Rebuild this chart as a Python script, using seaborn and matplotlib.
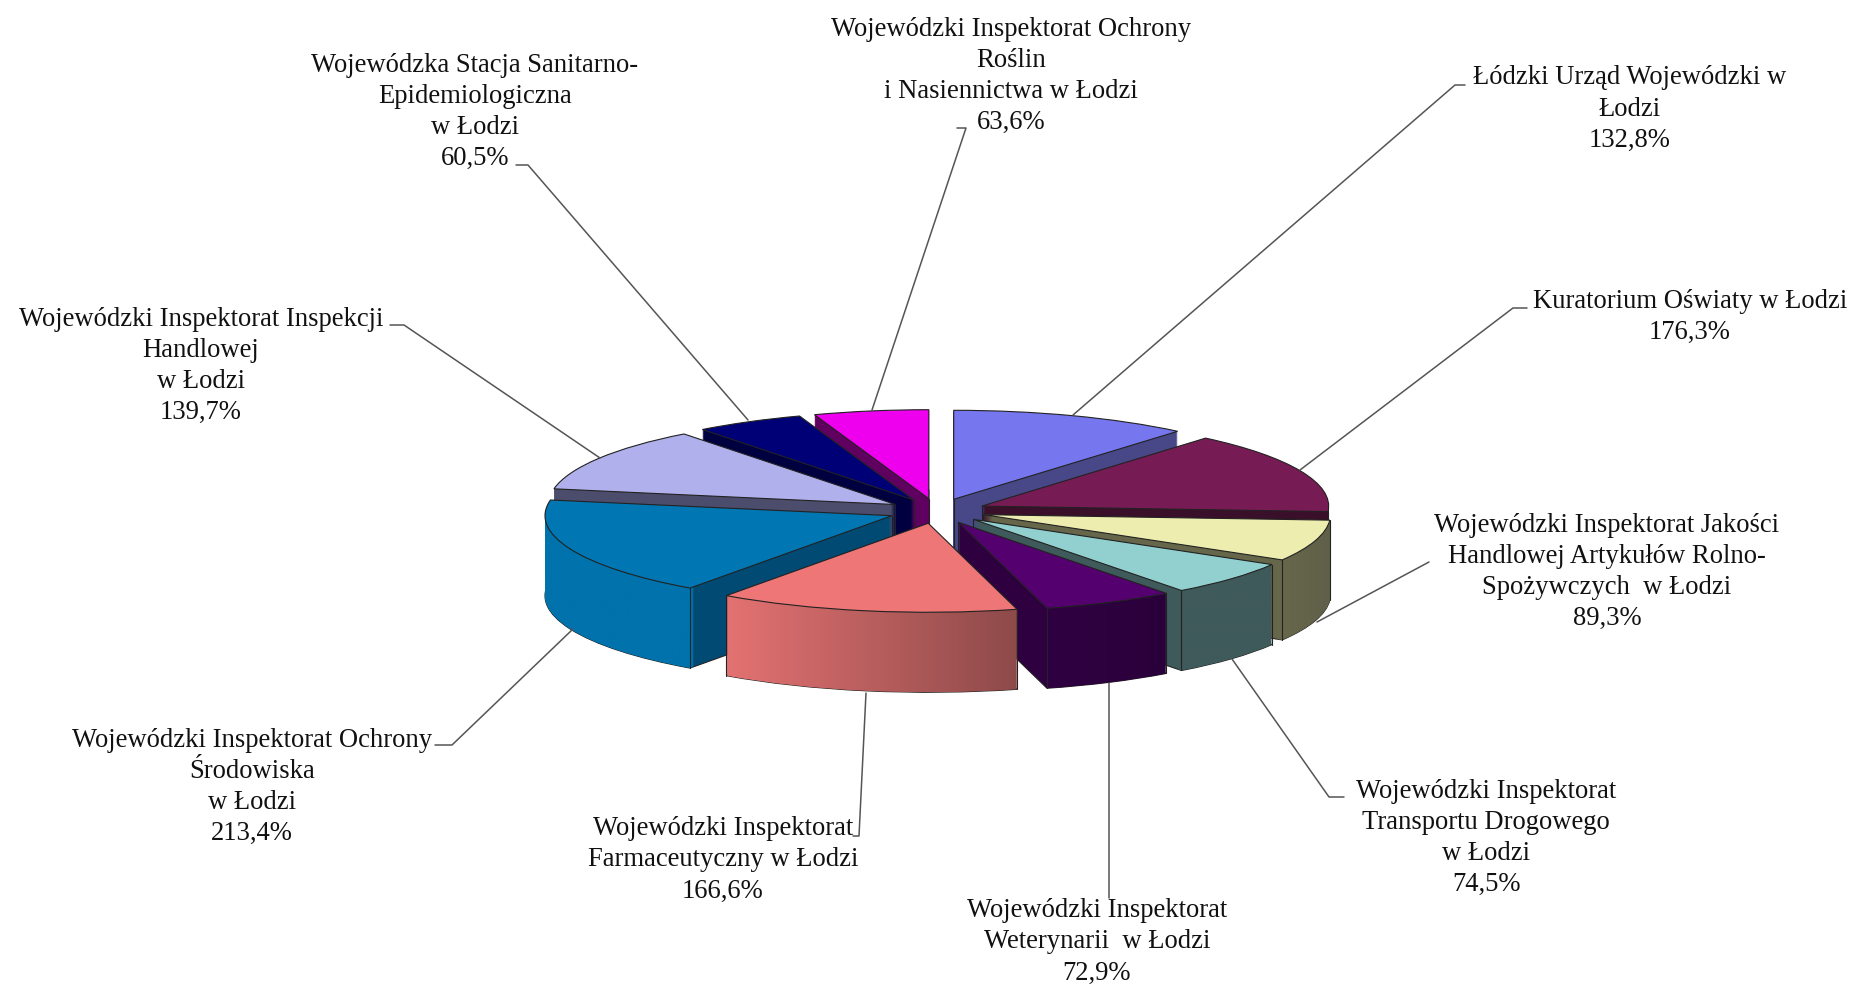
import numpy as np
import matplotlib
matplotlib.use('Agg')
import matplotlib.pyplot as plt
from matplotlib.lines import Line2D
from matplotlib.patches import PathPatch
from matplotlib.path import Path
import seaborn as sns

sns.set_theme(style="white")
plt.rcParams['font.family'] = ['Liberation Serif', 'DejaVu Serif']

# data, clockwise from 12 o'clock
names = ["Łódzki Urząd Wojewódzki w\nŁodzi",
         "Kuratorium Oświaty w Łodzi",
         "Wojewódzki Inspektorat Jakości\nHandlowej Artykułów Rolno-\nSpożywczych  w Łodzi",
         "Wojewódzki Inspektorat\nTransportu Drogowego\nw Łodzi",
         "Wojewódzki Inspektorat\nWeterynarii  w Łodzi",
         "Wojewódzki Inspektorat\nFarmaceutyczny w Łodzi",
         "Wojewódzki Inspektorat Ochrony\nŚrodowiska\nw Łodzi",
         "Wojewódzki Inspektorat Inspekcji\nHandlowej\nw Łodzi",
         "Wojewódzka Stacja Sanitarno-\nEpidemiologiczna\nw Łodzi",
         "Wojewódzki Inspektorat Ochrony\nRoślin\ni Nasiennictwa w Łodzi"]
values = [132.8, 176.3, 89.3, 74.5, 72.9, 166.6, 213.4, 139.7, 60.5, 63.6]

# colours
top_colors = ['#7676EE', '#771B55', '#EDEDB0', '#92D0D0', '#54006F',
              '#EE7676', '#0076B2', '#B0B0EC', '#000076', '#EE00EE']
side_colors = ['#484888', '#3A0F2A', '#66664A', '#3F5A5A', '#2E0040',
               '#A05050', '#004A73', '#4C4C6C', '#000040', '#600060']
rim_left = ['#484888', '#3A0F2A', '#68684C', '#3F5A5A', '#300042',
            '#E47272', '#0072AC', '#4C4C6C', '#000040', '#600060']
rim_right = ['#484888', '#3A0F2A', '#60604A', '#3F5A5A', '#2A003A',
             '#8E4A4A', '#0072AC', '#4C4C6C', '#000040', '#600060']
# back to front
draw_rank = [2, 4, 6, 7, 8, 9, 5, 3, 1, 0]

W, H = 1852, 986
cx, cy = 937, 511      # pie centre in pixels
rx, ry = 347, 89       # pixels per data unit
depth = 80

# label centres, leader lines (pixels of the full picture)
label_pos = [(1630, 109), (1690, 317), (1607, 572), (1486, 838), (1097, 942),
             (723, 860), (252, 787), (201, 366), (475, 112), (1011, 76)]
leaders = [[(1465, 85), (1455, 85), (1073, 415)],
           [(1527, 308), (1513, 308), (1300, 470)],
           [(1429, 562), (1317, 622)],
           [(1344, 797), (1329, 797), (1232, 659)],
           [(1109, 898), (1109, 683)],
           [(853, 836), (859, 836), (866, 693)],
           [(435, 745), (452, 745), (573, 629)],
           [(390, 325), (404, 325), (600, 458)],
           [(516, 165), (528, 165), (748, 420)],
           [(957, 128), (966, 128), (872, 410)]]

fig = plt.figure(figsize=(W / 100, H / 100), dpi=100, facecolor='white')
ax = fig.add_axes([0, 0, 1, 1])

pie_args = dict(startangle=90, counterclock=False, explode=[0.14] * len(values))
n = len(values)
rim_paths = [[] for _ in range(n)]

# stacked wedges make the walls
for k in range(depth, 0, -1):
    y0 = -k / ry
    edge = '#222222' if k == depth else 'none'
    walls, _ = ax.pie(values, center=(0, y0), colors=side_colors,
                      wedgeprops=dict(linewidth=0.8 if k == depth else 0, edgecolor=edge), **pie_args)
    rims, _ = ax.pie(values, center=(0, y0), colors=side_colors,
                     wedgeprops=dict(width=0.02, linewidth=0), **pie_args)
    for i in range(n):
        walls[i].set_zorder(draw_rank[i] * 10 + 1)
        rims[i].set_visible(False)
        rim_paths[i].append(rims[i].get_path())

tops, _ = ax.pie(values, colors=top_colors,
                 wedgeprops=dict(linewidth=0.8, edgecolor='#222222'), **pie_args)

gradient = np.linspace(0, 1, 256)[None, :]
for i in range(n):
    z = draw_rank[i] * 10
    tops[i].set_zorder(z + 5)

    # outer wall with its left-right shading
    rim_path = Path.make_compound_path(*rim_paths[i])
    box = rim_path.get_extents()
    cmap = sns.blend_palette([rim_left[i], rim_right[i]], as_cmap=True)
    im = ax.imshow(gradient, extent=[box.x0, box.x1, box.y0, box.y1], cmap=cmap,
                   aspect='auto', interpolation='bilinear', zorder=z + 2)
    im.set_clip_path(PathPatch(rim_path, transform=ax.transData))

    # vertical edges, only the ones facing the viewer
    w = tops[i]
    t1, t2 = np.radians(w.theta1), np.radians(w.theta2)
    edges = []
    for t in (t1, t2):
        if np.sin(t) < 0:
            edges.append((w.center[0] + np.cos(t), w.center[1] + np.sin(t)))
    if (270 - w.theta1) % 360 > (w.theta2 - w.theta1):
        edges.append(w.center)
    for x, y in edges:
        ax.plot([x, x], [y, y - depth / ry], color='#222222', lw=0.8, zorder=z + 3)

ax.set_aspect('auto')
ax.set_xlim(-cx / rx, (W - cx) / rx)
ax.set_ylim(-(H - cy) / ry, cy / ry)
ax.axis('off')

# labels and leader lines
for name, val, pos, pts in zip(names, values, label_pos, leaders):
    txt = name + "\n" + f"{val:.1f}%".replace(".", ",")
    fig.text(pos[0] / W, 1 - pos[1] / H, txt, ha='center', va='center',
             fontsize=19.2, color='#111111', linespacing=1.33, multialignment='center')
    fig.add_artist(Line2D([p[0] / W for p in pts], [1 - p[1] / H for p in pts],
                          color='#555555', lw=1.1))

plt.savefig('out.png', dpi=100)
